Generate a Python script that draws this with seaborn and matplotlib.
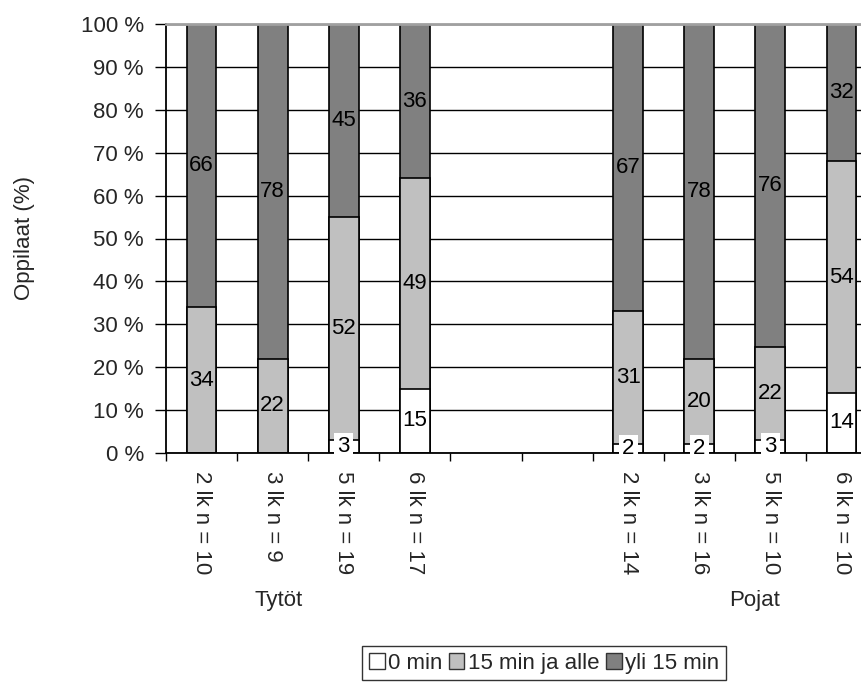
import numpy as np
import pandas as pd
import matplotlib
matplotlib.use("Agg")
import matplotlib.pyplot as plt
import seaborn as sns
from matplotlib.patches import Patch
import matplotlib.transforms as mtransforms

# ---- data ----
categories = ["2 lk n = 10", "3 lk n = 9", "5 lk n = 19", "6 lk n = 17",
              "2 lk n = 14", "3 lk n = 16", "5 lk n = 10", "6 lk n = 10"]
groups = ["Tytöt", "Tytöt", "Tytöt", "Tytöt", "Pojat", "Pojat", "Pojat", "Pojat"]
min0 = [0, 0, 3, 15, 2, 2, 3, 14]
min15_or_less = [34, 22, 52, 49, 31, 20, 22, 54]
over15 = [66, 78, 45, 36, 67, 78, 76, 32]
series_names = ["0 min", "15 min ja alle", "yli 15 min"]
group_names = ["Tytöt", "Pojat"]
y_ticks = [0, 10, 20, 30, 40, 50, 60, 70, 80, 90, 100]

order = categories[:4] + [" ", "  "] + categories[4:]

sns.set_theme(style="white")
plt.rcParams["font.family"] = ["Liberation Sans", "DejaVu Sans"]
FS = 16

df = pd.DataFrame({"cat": categories, "a": min0, "b": min15_or_less, "c": over15})
tot = df[["a", "b", "c"]].sum(axis=1)
df["pa"] = df["a"] / tot * 100
df["pb"] = df["b"] / tot * 100
df["pc"] = df["c"] / tot * 100
df["cum1"] = df["pa"]
df["cum2"] = df["pa"] + df["pb"]
df["cum3"] = df["pa"] + df["pb"] + df["pc"]

fig = plt.figure(figsize=(8.62, 6.87), dpi=100)
ax = fig.add_axes([166 / 862, (687 - 453) / 687, 711 / 862, (453 - 24) / 687])

colors = ["#ffffff", "#c0c0c0", "#808080"]
for col, c in zip(["cum3", "cum2", "cum1"], [colors[2], colors[1], colors[0]]):
    sns.barplot(data=df, x="cat", y=col, order=order, color=c, width=0.42,
                edgecolor="black", linewidth=1.2, saturation=1, ax=ax, zorder=2,
                errorbar=None)

ax.set_xlim(-0.5, len(order) - 0.5)
ax.set_ylim(0, 100)

# labels
pos = {c: i for i, c in enumerate(order)}
for _, r in df.iterrows():
    x = pos[r["cat"]]
    segs = [(r["a"], 0, r["cum1"], True), (r["b"], r["cum1"], r["cum2"], False),
            (r["c"], r["cum2"], r["cum3"], False)]
    for val, lo, hi, boxed in segs:
        if val <= 0:
            continue
        kw = {}
        if boxed and val < 8:
            kw["bbox"] = dict(boxstyle="square,pad=0.15", fc="white", ec="none")
        ax.text(x, (lo + hi) / 2, f"{val:g}", ha="center", va="center",
                fontsize=FS, color="black", zorder=5, **kw)

# axes style
ax.set_yticks(y_ticks)
ax.set_yticklabels([f"{v} %" for v in y_ticks], fontsize=FS)
ax.yaxis.grid(True, color="black", linewidth=1)
ax.set_axisbelow(True)
ax.tick_params(axis="y", direction="out", length=8, width=1, pad=8, left=True, color="black")

ax.set_xticks(range(len(order)))
ax.set_xticklabels(order, rotation=270, fontsize=FS, va="top", ha="center")
ax.tick_params(axis="x", which="major", length=0, pad=13)
ax.set_xticks(np.arange(-0.5, len(order), 1), minor=True)
ax.tick_params(axis="x", which="minor", direction="out", length=6, width=1,
               bottom=True, color="black")

for s in ["left", "bottom"]:
    ax.spines[s].set_color("black")
    ax.spines[s].set_linewidth(1.3)
ax.spines["right"].set_visible(False)
ax.spines["top"].set_color("#a0a0a0")
ax.spines["top"].set_linewidth(2)

ax.set_xlabel("")
ax.set_ylabel("Oppilaat (%)", fontsize=FS)
ax.yaxis.set_label_coords(-131 / 711, 0.5)

trans = mtransforms.blended_transform_factory(ax.transData, ax.transAxes)
ax.text(1.09, -0.343, group_names[0], transform=trans, ha="center", va="center", fontsize=FS)
ax.text(7.78, -0.343, group_names[1], transform=trans, ha="center", va="center", fontsize=FS)

handles = [Patch(facecolor=c, edgecolor="#333333", linewidth=1) for c in colors]
leg = fig.legend(handles, series_names, loc="upper center", ncol=3,
                 bbox_to_anchor=(544 / 862, 1 - 646 / 687), fontsize=FS,
                 frameon=True, fancybox=False, edgecolor="black",
                 handlelength=0.7, handleheight=0.7, handletextpad=0.15,
                 columnspacing=0.3, borderpad=0.3, borderaxespad=0)
leg.get_frame().set_linewidth(1)

fig.savefig("out.png", dpi=100)
